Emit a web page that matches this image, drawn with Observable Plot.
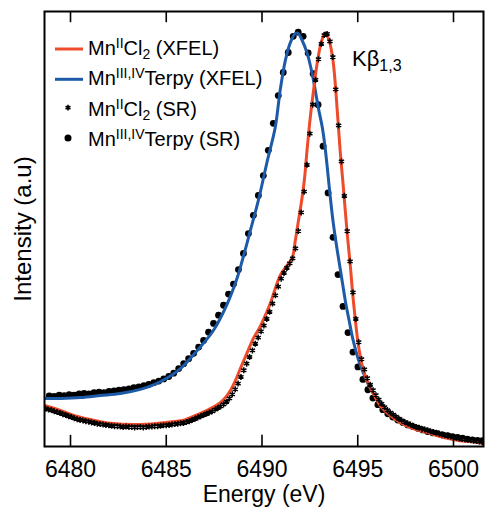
<!DOCTYPE html>
<html><head><meta charset="utf-8">
<script src="https://cdn.jsdelivr.net/npm/d3@7"></script>
<script src="https://cdn.jsdelivr.net/npm/@observablehq/plot@0.6"></script>
<style>body{margin:0;background:#fff}#chart{width:485px;height:507px}</style>
</head><body><div id="chart"></div>
<script>
// ---- data ----
const energyTicks = [6480, 6485, 6490, 6495, 6500];

// Mn(II)Cl2 XFEL line
const mnXfelE = [6478.64,6479.48,6480.16,6481.04,6482.09,6483.65,6485.00,6486.00,6486.78,6487.41,6487.82,6488.14,6488.35,6488.61,6488.87,6489.23,6489.55,6489.91,6490.17,6490.43,6490.69,6490.95,6491.22,6491.58,6491.74,6491.89,6492.05,6492.21,6492.36,6492.52,6492.68,6492.88,6493.09,6493.30,6493.51,6493.72,6493.93,6494.08,6494.24,6494.45,6494.61,6494.76,6495.02,6495.23,6495.49,6495.81,6496.17,6496.69,6497.21,6497.89,6498.62,6499.46,6500.34,6500.97,6501.60];
const mnXfelV = [0.099,0.087,0.075,0.065,0.056,0.053,0.058,0.065,0.080,0.094,0.106,0.121,0.135,0.159,0.188,0.227,0.261,0.290,0.316,0.345,0.381,0.413,0.432,0.456,0.497,0.541,0.587,0.642,0.719,0.794,0.855,0.925,0.975,0.999,0.980,0.927,0.811,0.715,0.630,0.514,0.437,0.357,0.249,0.196,0.159,0.128,0.099,0.075,0.058,0.043,0.034,0.022,0.014,0.012,0.007];

// Mn(III,IV) Terpy XFEL line
const terpyXfelE = [6478.64,6479.48,6480.52,6481.57,6482.61,6483.65,6484.40,6485.00,6485.74,6486.62,6487.46,6488.19,6488.71,6488.97,6489.39,6489.81,6490.28,6490.69,6490.95,6491.22,6491.48,6491.74,6491.89,6492.10,6492.36,6492.62,6492.94,6493.15,6493.30,6493.56,6493.72,6493.93,6494.14,6494.35,6494.55,6494.76,6495.02,6495.28,6495.55,6495.91,6496.43,6497.21,6498.00,6498.78,6499.82,6500.87,6501.60];
const terpyXfelV = [0.116,0.116,0.118,0.123,0.128,0.138,0.150,0.164,0.188,0.232,0.280,0.345,0.408,0.449,0.521,0.594,0.690,0.770,0.860,0.932,0.975,0.997,0.997,0.980,0.949,0.900,0.818,0.770,0.720,0.605,0.540,0.473,0.413,0.352,0.304,0.256,0.212,0.179,0.150,0.121,0.092,0.063,0.046,0.034,0.022,0.014,0.010];

// Mn(II)Cl2 SR points: sampled from 6478.70 eV every 0.15 eV
const mnSrStart = 6478.70, mnSrStep = 0.15;
const mnSrV = [0.092,0.089,0.088,0.085,0.083,0.081,0.078,0.076,0.073,0.071,
0.068,0.066,0.064,0.063,0.061,0.060,0.058,0.057,0.055,0.054,
0.053,0.052,0.051,0.050,0.049,0.049,0.048,0.047,0.048,0.047,
0.047,0.046,0.047,0.047,0.046,0.047,0.048,0.048,0.049,0.049,
0.050,0.051,0.051,0.052,0.053,0.054,0.055,0.056,0.057,0.059,
0.061,0.064,0.067,0.070,0.073,0.076,0.079,0.082,0.085,0.089,
0.093,0.097,0.102,0.108,0.116,0.126,0.138,0.152,0.168,0.184,
0.200,0.216,0.232,0.248,0.263,0.278,0.292,0.308,0.325,0.345,
0.365,0.386,0.405,0.419,0.431,0.442,0.454,0.478,0.520,0.565,
0.615,0.680,0.755,0.825,0.885,0.935,0.972,0.993,0.996,0.978,
0.940,0.862,0.775,0.688,0.605,0.520,0.447,0.372,0.308,0.252,
0.211,0.186,0.165,0.149,0.136,0.124,0.113,0.103,0.095,0.088,
0.082,0.077,0.072,0.067,0.063,0.059,0.056,0.053,0.050,0.047,
0.045,0.043,0.041,0.039,0.037,0.035,0.033,0.031,0.029,0.027,
0.026,0.024,0.022,0.021,0.019,0.018,0.017,0.016,0.015,0.014,
0.013,0.012,0.011];

// Mn(III,IV) Terpy SR points: sampled from 6478.89 eV every 0.26 eV
const terpySrStart = 6478.89, terpySrStep = 0.26;
const terpySrV = [0.122,0.121,0.124,0.123,0.125,0.124,0.127,0.128,0.127,0.130,
0.131,0.130,0.133,0.134,0.136,0.137,0.139,0.142,0.144,0.147,
0.150,0.154,0.158,0.163,0.169,0.177,0.188,0.200,0.212,0.225,
0.240,0.256,0.276,0.297,0.317,0.341,0.368,0.392,0.427,0.466,
0.514,0.558,0.606,0.654,0.715,0.780,0.847,0.903,0.951,0.990,
1.000,0.990,0.950,0.900,0.825,0.725,0.612,0.505,0.415,0.338,
0.275,0.228,0.192,0.162,0.137,0.117,0.101,0.089,0.079,0.071,
0.064,0.058,0.052,0.048,0.044,0.040,0.036,0.033,0.031,0.028,
0.026,0.024,0.022,0.020,0.018,0.016,0.015,0.014];

const legendItems = [
  {base: "Mn", sup: "II", mid: "Cl", sub: "2", tail: " (XFEL)", kind: "line", color: "red"},
  {base: "Mn", sup: "III,IV", mid: "Terpy (XFEL)", sub: "", tail: "", kind: "line", color: "blue"},
  {base: "Mn", sup: "II", mid: "Cl", sub: "2", tail: " (SR)", kind: "star"},
  {base: "Mn", sup: "III,IV", mid: "Terpy (SR)", sub: "", tail: "", kind: "dot"}
];
const peakLabel = {main: "Kβ", sub: "1,3"};
const xLabel = "Energy (eV)";
const yLabel = "Intensity (a.u)";

// ---- build tables ----
const RED = "#ee4b2b", BLUE = "#1d5aa8";
const mnXfel = mnXfelE.map((e, i) => ({e, v: mnXfelV[i]}));
const terpyXfel = terpyXfelE.map((e, i) => ({e, v: terpyXfelV[i]}));
const mnSr = mnSrV.map((v, i) => ({e: mnSrStart + i * mnSrStep, v}));
const terpySr = terpySrV.map((v, i) => ({e: terpySrStart + i * terpySrStep, v}));

const FONT = "'Liberation Sans', Arial, Helvetica, sans-serif";
const yMax = 1.05, tickLen = 0.027;

const plot = Plot.plot({
  width: 485, height: 507,
  marginLeft: 44, marginRight: 2, marginTop: 11, marginBottom: 61,
  style: {fontFamily: FONT, background: "white", color: "black"},
  x: {domain: [6478.642, 6501.567]},
  y: {domain: [0, yMax], axis: null},
  marks: [
    Plot.dot(terpySr, {x: "e", y: "v", r: 3.4, fill: "black", clip: true}),
    Plot.line(terpyXfel, {x: "e", y: "v", stroke: BLUE, strokeWidth: 3, curve: "catmull-rom", clip: true}),
    Plot.line(mnXfel, {x: "e", y: "v", stroke: RED, strokeWidth: 3, curve: "catmull-rom", clip: true}),
    Plot.dot(mnSr, {x: "e", y: "v", symbol: "asterisk", r: 2.8, stroke: "black", strokeWidth: 1.5, clip: true}),
    Plot.ruleX(energyTicks, {y1: 0, y2: tickLen, stroke: "black", strokeWidth: 1.6}),
    Plot.ruleX(energyTicks, {y1: yMax - tickLen, y2: yMax, stroke: "black", strokeWidth: 1.6}),
    Plot.axisX({ticks: energyTicks, tickSize: 0, tickPadding: 14, fontSize: 23, label: null, tickFormat: d3.format("d")}),
    Plot.text([xLabel], {frameAnchor: "bottom", lineAnchor: "top", dy: 39, fontSize: 23, fill: "black"}),
    Plot.text([yLabel], {frameAnchor: "left", rotate: -90, textAnchor: "middle", lineAnchor: "bottom", dx: -14, fontSize: 24, fill: "black"}),
    Plot.frame({stroke: "black", strokeWidth: 2})
  ]
});

// legend and peak label inside the frame
const svg = d3.select(plot);
const lg = svg.append("g").attr("font-family", FONT).attr("fill", "black").attr("text-anchor", "start");
legendItems.forEach((it, i) => {
  const base = 55 + i * 30.3;
  const cy = base - (it.kind === "line" ? 6 : 8);
  if (it.kind === "line") {
    lg.append("line").attr("x1", 55).attr("x2", 83).attr("y1", cy).attr("y2", cy)
      .attr("stroke", it.color === "red" ? RED : BLUE).attr("stroke-width", 3);
  } else if (it.kind === "dot") {
    lg.append("circle").attr("cx", 68).attr("cy", cy).attr("r", 3.5).attr("fill", "black");
  } else {
    lg.append("path").attr("d", d3.symbol(d3.symbolAsterisk, 22)()).attr("transform", `translate(68,${cy})`)
      .attr("stroke", "black").attr("stroke-width", 1.6).attr("fill", "none");
  }
  const t = lg.append("text").attr("x", 88).attr("y", base).attr("font-size", 20);
  t.append("tspan").text(it.base);
  t.append("tspan").attr("font-size", 14).attr("dy", -7).text(it.sup);
  t.append("tspan").attr("dy", 7).text(it.mid);
  if (it.sub) {
    t.append("tspan").attr("font-size", 14).attr("dy", 4).text(it.sub);
    t.append("tspan").attr("dy", -4).text(it.tail);
  }
});
const pk = lg.append("text").attr("x", 352).attr("y", 66).attr("font-size", 22);
pk.append("tspan").text(peakLabel.main);
pk.append("tspan").attr("font-size", 16).attr("dy", 5).text(peakLabel.sub);

document.getElementById("chart").appendChild(plot);
</script></body></html>
